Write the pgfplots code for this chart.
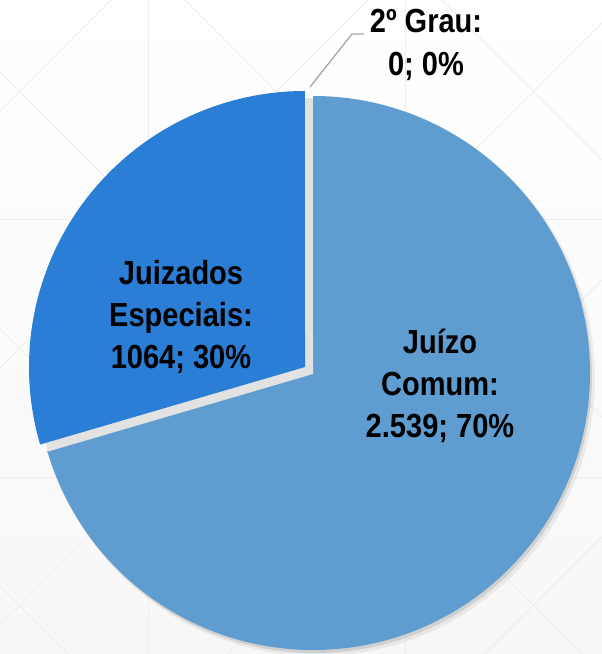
\documentclass[border=0pt]{standalone}
\usepackage{pgfplots}
\pgfplotsset{compat=1.18}
\usepackage{pgfplotstable}
\usepackage{fontspec}
\setmainfont{Liberation Sans}[FakeStretch=0.87]
\definecolor{lightpie}{HTML}{5F9DD0}
\definecolor{darkpie}{HTML}{2B7ED6}
\definecolor{gridbg}{HTML}{EDEDED}
\definecolor{shadowc}{HTML}{E2E2E2}
\definecolor{leader}{HTML}{A6A6A6}
\pgfplotstableread{
label value
JuizoComum 2539
JuizadosEspeciais 1064
SegundoGrau 0
}\piedata
\begin{document}
\begin{tikzpicture}
\path[use as bounding box] (0,0) rectangle (602bp,654bp);
\begin{scope}[x=1bp,y=1bp]
\clip (0,0) rectangle (602,654);
\shade[top color=white,bottom color={rgb,255:red,247;green,247;blue,247}] (0,0) rectangle (602,654);
\foreach \xv in {148,405} \draw[gridbg,line width=1bp] (\xv,0) -- (\xv,654);
\foreach \yv in {176,434} \draw[gridbg,line width=1bp] (0,\yv) -- (602,\yv);
\foreach \c in {68,325,582,839,1096} \draw[gridbg,line width=1bp] ({\c-700},700) -- ({\c+700},-700);
\foreach \c in {-543,-286,-29,228,485} \draw[gridbg,line width=1bp] ({\c-700},-700) -- ({\c+700},700);
\end{scope}
\pgfplotstablegetelem{0}{value}\of\piedata \let\vA\pgfplotsretval
\pgfplotstablegetelem{1}{value}\of\piedata \let\vB\pgfplotsretval
\pgfplotstablegetelem{2}{value}\of\piedata \let\vC\pgfplotsretval
\pgfmathsetmacro{\tot}{\vA+\vB+\vC}
\pgfmathsetmacro{\aA}{360*(\vA/\tot)}
\pgfmathsetmacro{\aB}{360*(\vB/\tot)}
\pgfmathsetmacro{\endA}{90-\aA}
\pgfmathsetmacro{\endB}{\endA-\aB}
\pgfmathsetmacro{\midB}{\endA-\aB/2}
\pgfmathsetmacro{\dx}{10*cos(\midB)}
\pgfmathsetmacro{\dy}{10*sin(\midB)}
\begin{axis}[at={(0,0)},anchor=south west,width=602bp,height=654bp,scale only axis,
  xmin=0,xmax=602,ymin=0,ymax=654,hide axis,clip=false]
% light slice shadow
\fill[black,opacity=0.10] (axis cs:315,278) -- ++(90:277bp) arc[start angle=90,end angle=\endA,radius=277bp] -- cycle;
\fill[black,opacity=0.06] (axis cs:317,276) -- ++(90:278bp) arc[start angle=90,end angle=\endA,radius=278bp] -- cycle;
% light slice
\fill[lightpie] (axis cs:313,281) -- ++(90:277bp) arc[start angle=90,end angle=\endA,radius=277bp] -- cycle;
% dark slice shadow
\fill[shadowc] (axis cs:{313+\dx+8},{281+\dy-7}) -- ++(\endA:276bp) arc[start angle=\endA,end angle=\endB,radius=276bp] -- cycle;
% dark slice
\fill[darkpie] (axis cs:{313+\dx},{281+\dy}) -- ++(\endA:276bp) arc[start angle=\endA,end angle=\endB,radius=276bp] -- cycle;
% leader line for 2o Grau
\draw[leader,line width=1.3bp] (axis cs:310,567) -- (axis cs:352,620) -- (axis cs:364,620);
% labels
\node[font=\fontsize{33.5}{42.5}\selectfont\bfseries,align=center] at (axis cs:181,337) {Juizados\\Especiais:\\1064; 30\%};
\node[font=\fontsize{33.5}{42.5}\selectfont\bfseries,align=center] at (axis cs:440,268) {Juízo\\Comum:\\2.539; 70\%};
\node[font=\fontsize{33.5}{42.5}\selectfont\bfseries,align=center] at (axis cs:426,609) {2º Grau:\\0; 0\%};
\end{axis}
\end{tikzpicture}
\end{document}
